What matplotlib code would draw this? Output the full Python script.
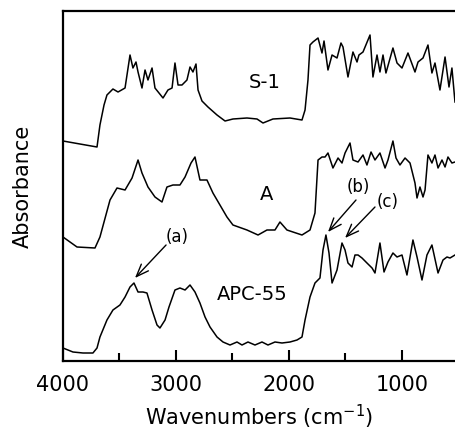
import matplotlib
matplotlib.use("Agg")
import matplotlib.pyplot as plt
from matplotlib.ticker import MultipleLocator

# ---- data (arbitrary absorbance units, offset traces) ----
wn_s1 = [4000, 3850, 3699, 3673, 3637, 3611, 3558, 3513, 3451, 3407, 3381, 3354, 3336, 3301, 3274,
         3248, 3212, 3186, 3115, 3071, 3035, 3009, 2982, 2947, 2903, 2876, 2850, 2823, 2805, 2770,
         2717, 2637, 2566, 2496, 2372, 2283, 2230, 2142, 1991, 1885, 1858, 1832, 1814, 1788, 1743,
         1708, 1690, 1655, 1619, 1575, 1540, 1522, 1478, 1434, 1398, 1381, 1345, 1283, 1257, 1221,
         1195, 1168, 1142, 1080, 1044, 1000, 947, 885, 858, 814, 770, 735, 708, 664, 619, 584, 558, 531]
ab_s1 = [220, 217, 214, 236, 256, 266, 272, 269, 273, 306, 293, 299, 289, 273, 291,
         281, 293, 273, 263, 271, 273, 298, 276, 276, 281, 294, 289, 297, 271, 260,
         254, 246, 240, 242, 243, 242, 238, 242, 243, 241, 251, 281, 316, 319, 323,
         308, 320, 291, 306, 303, 318, 314, 284, 309, 299, 306, 309, 326, 284, 306,
         289, 306, 288, 313, 298, 293, 308, 289, 299, 303, 316, 288, 298, 271, 304, 274, 293, 259]

wn_a = [4000, 3876, 3717, 3673, 3584, 3522, 3451, 3389, 3336, 3301, 3248, 3186, 3124, 3080, 3027,
        2965, 2920, 2867, 2832, 2788, 2726, 2673, 2611, 2549, 2496, 2372, 2274, 2195, 2124, 2080,
        2018, 1965, 1885, 1814, 1770, 1743, 1708, 1681, 1655, 1611, 1566, 1531, 1504, 1460, 1434,
        1389, 1345, 1310, 1274, 1239, 1195, 1150, 1124, 1080, 1053, 1018, 973, 929, 885, 867, 841,
        814, 796, 770, 735, 708, 681, 646, 619, 593, 558, 531]
ab_a = [124, 114, 113, 124, 161, 173, 171, 183, 201, 188, 174, 164, 159, 174, 176,
        176, 184, 198, 204, 181, 181, 168, 156, 144, 136, 131, 126, 131, 131, 139,
        131, 129, 126, 131, 148, 201, 204, 204, 208, 193, 203, 198, 208, 218, 201,
        199, 206, 196, 209, 201, 208, 193, 201, 220, 203, 196, 203, 198, 178, 163, 174,
        164, 171, 206, 198, 206, 193, 201, 194, 204, 198, 199]

wn_apc = [4000, 3912, 3823, 3735, 3699, 3673, 3611, 3558, 3496, 3451, 3407, 3372, 3336, 3292, 3257,
          3212, 3168, 3142, 3097, 3062, 3009, 2965, 2920, 2876, 2832, 2788, 2743, 2699, 2637, 2584,
          2522, 2460, 2416, 2363, 2301, 2239, 2186, 2124, 2062, 1991, 1929, 1885, 1858, 1814, 1770,
          1726, 1699, 1673, 1646, 1619, 1575, 1531, 1504, 1478, 1442, 1416, 1389, 1354, 1310, 1265,
          1239, 1195, 1159, 1124, 1080, 1044, 1000, 956, 903, 867, 823, 779, 735, 681, 637, 602, 575, 531]
ab_apc = [13, 9, 8, 8, 13, 24, 41, 51, 56, 64, 74, 78, 69, 69, 68,
          51, 36, 33, 41, 54, 71, 73, 71, 76, 69, 58, 44, 34, 24, 19,
          16, 19, 16, 19, 16, 19, 16, 19, 18, 19, 21, 24, 41, 64, 78,
          83, 111, 126, 108, 78, 91, 118, 111, 98, 94, 106, 106, 103, 98, 93,
          88, 118, 89, 99, 108, 104, 106, 86, 121, 104, 81, 106, 116, 88, 101, 104, 103, 106]

series_names = ["S-1", "A", "APC-55"]
peak_labels = ["(a)", "(b)", "(c)"]
x_ticks = [4000, 3000, 2000, 1000]

# ---- figure ----
fig = plt.figure(figsize=(4.56, 4.37), dpi=100)
ax = fig.add_axes([63 / 456, 76 / 437, 1 - 63 / 456, 350 / 437])

for wn, ab in [(wn_s1, ab_s1), (wn_a, ab_a), (wn_apc, ab_apc)]:
    ax.plot(wn, ab, color="black", lw=1.1, solid_joinstyle="round")

ax.set_xlim(4000, 522)
ax.set_ylim(0, 350)
ax.set_xticks(x_ticks)
ax.set_xticklabels([str(t) for t in x_ticks])
ax.xaxis.set_minor_locator(MultipleLocator(500))
ax.tick_params(axis="x", which="major", direction="in", length=8, width=1.5, pad=10,
               labelsize=15, top=False)
ax.tick_params(axis="x", which="minor", direction="in", length=6, width=1.5, top=False)
ax.set_yticks([])
for s in ["left", "bottom", "top"]:
    ax.spines[s].set_linewidth(1.6)
ax.spines["right"].set_visible(False)

ax.set_xlabel("Wavenumbers (cm$^{-1}$)", fontsize=15, labelpad=6)
ax.set_ylabel("Absorbance", fontsize=15, labelpad=22)

# series labels
ax.text(2212, 279, series_names[0], fontsize=14, ha="center", va="center")
ax.text(2195, 166, series_names[1], fontsize=14, ha="center", va="center")
ax.text(2327, 66, series_names[2], fontsize=14, ha="center", va="center")

# peak annotations
arrow = dict(arrowstyle="->, head_length=0.9, head_width=0.35", color="black", lw=1.0,
             shrinkA=0, shrinkB=0)
ax.text(2991, 124, peak_labels[0], fontsize=12, ha="center", va="center")
ax.annotate("", xy=(3363, 83), xytext=(3088, 116), arrowprops=arrow)
ax.text(1389, 174, peak_labels[1], fontsize=12, ha="center", va="center")
ax.annotate("", xy=(1655, 129), xytext=(1407, 161), arrowprops=arrow)
ax.text(1124, 159, peak_labels[2], fontsize=12, ha="center", va="center")
ax.annotate("", xy=(1504, 123), xytext=(1239, 154), arrowprops=arrow)

fig.savefig("out.png", dpi=100)
